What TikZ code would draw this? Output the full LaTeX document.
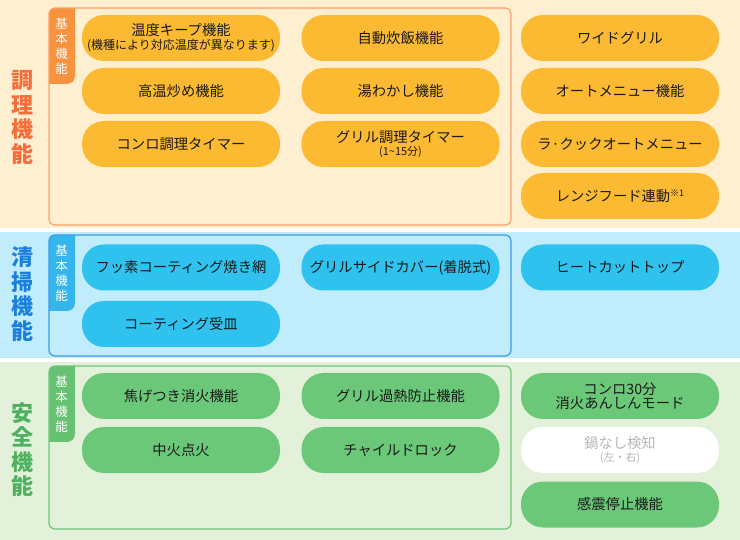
\documentclass[tikz,border=0pt]{standalone}
\usepackage{fontspec}
\setmainfont{Noto Sans CJK JP}
\definecolor{bgO}{HTML}{FEEFD1}
\definecolor{frO}{HTML}{F9A169}
\definecolor{tabO}{HTML}{F7923E}
\definecolor{pilO}{HTML}{FBBA31}
\definecolor{labO}{HTML}{F46D3A}
\definecolor{bgB}{HTML}{C0ECFB}
\definecolor{frB}{HTML}{3A9BEB}
\definecolor{tabB}{HTML}{34B6EC}
\definecolor{pilB}{HTML}{2FC2EF}
\definecolor{labB}{HTML}{1B80D9}
\definecolor{bgG}{HTML}{E4F1DA}
\definecolor{frG}{HTML}{6DC77B}
\definecolor{tabG}{HTML}{66C272}
\definecolor{pilG}{HTML}{6BC879}
\definecolor{labG}{HTML}{4FB160}
\definecolor{txt}{HTML}{1A1A1A}
\definecolor{gtxt}{HTML}{B8B8B8}
\begin{document}
\begin{tikzpicture}[x=1pt,y=-1pt,
  pill/.style={rectangle, rounded corners=22pt, minimum width=198pt, minimum height=46pt,
    inner sep=0pt, align=center, text=txt, font=\fontsize{14.3}{15}\selectfont},
  frame/.style={rounded corners=6pt, line width=1.2pt},
  seclabel/.style={align=center, font=\fontsize{22}{24.5}\selectfont\bfseries, inner sep=0pt},
  tablabel/.style={align=center, text=white, font=\fontsize{12.5}{15}\selectfont, inner sep=0pt}]
\useasboundingbox (0,0) rectangle (740,540);
% backgrounds
\fill[white] (0,0) rectangle (740,540);
\fill[bgO] (0,0) rectangle (740,228);
\fill[bgB] (0,232) rectangle (740,358);
\fill[bgG] (0,362) rectangle (740,540);
% tabs
\begin{scope}
  \clip[rounded corners=6pt] (49,8) rectangle (511,225);
  \fill[tabO, rounded corners=8pt] (30,0) rectangle (75,84);
\end{scope}
\begin{scope}
  \clip[rounded corners=6pt] (49,235) rectangle (511,356);
  \fill[tabB, rounded corners=8pt] (30,225) rectangle (75,311);
\end{scope}
\begin{scope}
  \clip[rounded corners=6pt] (49,366) rectangle (511,529);
  \fill[tabG, rounded corners=8pt] (30,355) rectangle (75,442);
\end{scope}
% frames
\draw[frame, frO] (49,8) rectangle (511,225);
\draw[frame, frB] (49,235) rectangle (511,356);
\draw[frame, frG] (49,366) rectangle (511,529);
% section labels
\node[seclabel, text=labO] (lo) at (22,117.5) {調\\理\\機\\能};
\node[seclabel, text=labB] (lb) at (22,294) {清\\掃\\機\\能};
\node[seclabel, text=labG] (lg) at (22,449.5) {安\\全\\機\\能};
\node[tablabel] (to) at (61.5,46) {基\\本\\機\\能};
\node[tablabel] (tb) at (61.5,273) {基\\本\\機\\能};
\node[tablabel] (tg) at (61.5,404) {基\\本\\機\\能};
% orange pills
\node[pill, fill=pilO] (o11) at (181,38) {温度キープ機能\\[-1pt]{\fontsize{12}{13}\selectfont (機種により対応温度が異なります)}};
\node[pill, fill=pilO] (o21) at (181,91) {高温炒め機能};
\node[pill, fill=pilO] (o31) at (181,144) {コンロ調理タイマー};
\node[pill, fill=pilO] (o12) at (400.5,38) {自動炊飯機能};
\node[pill, fill=pilO] (o22) at (400.5,91) {湯わかし機能};
\node[pill, fill=pilO] (o32) at (400.5,144) {グリル調理タイマー\\[-2pt]{\fontsize{11}{12}\selectfont (1\textasciitilde15分)}};
\node[pill, fill=pilO] (o13) at (620,38) {ワイドグリル};
\node[pill, fill=pilO] (o23) at (620,91) {オートメニュー機能};
\node[pill, fill=pilO] (o33) at (620,144) {ラ·クックオートメニュー};
\node[pill, fill=pilO] (o43) at (620,196) {レンジフード連動\raisebox{5pt}{\fontsize{9}{9}\selectfont ※1}};
% blue pills
\node[pill, fill=pilB] (b11) at (181,267.5) {フッ素コーティング焼き網};
\node[pill, fill=pilB] (b21) at (181,324) {コーティング受皿};
\node[pill, fill=pilB] (b12) at (400.5,267.5) {グリルサイドカバー(着脱式)};
\node[pill, fill=pilB] (b13) at (620,267.5) {ヒートカットトップ};
% green pills
\node[pill, fill=pilG] (g11) at (181,396) {焦げつき消火機能};
\node[pill, fill=pilG] (g21) at (181,450) {中火点火};
\node[pill, fill=pilG] (g12) at (400.5,396) {グリル過熱防止機能};
\node[pill, fill=pilG] (g22) at (400.5,450) {チャイルドロック};
\node[pill, fill=pilG] (g13) at (620,396) {コンロ30分\\[-1pt]消火あんしんモード};
\node[pill, fill=white, text=gtxt] (g23) at (620,450) {鍋なし検知\\[-2pt]{\fontsize{11}{12}\selectfont (左・右)}};
\node[pill, fill=pilG] (g33) at (620,504.5) {感震停止機能};
\end{tikzpicture}
\end{document}
